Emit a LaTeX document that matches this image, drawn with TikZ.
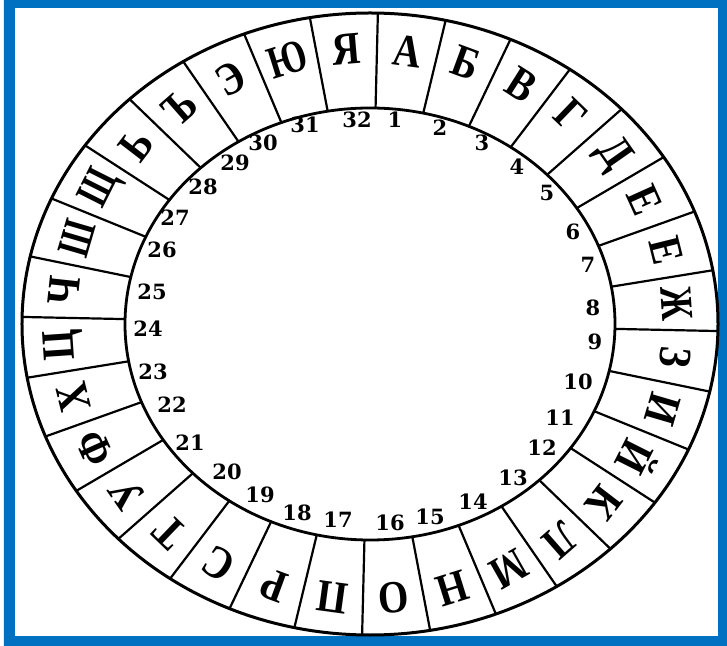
\documentclass[tikz,border=0pt]{standalone}
\usepackage{fontspec}
\setmainfont{Liberation Serif}
\newfontfamily\digitfont{DejaVu Serif}
\usepackage{tikz}
\definecolor{frameblue}{RGB}{0,112,192}

\begin{document}
\begin{tikzpicture}[x=0.5pt,y=0.5pt,line cap=round,
    letter/.style={inner sep=0pt,font=\fontsize{23}{23}\selectfont\bfseries},
    digit/.style={inner sep=0pt,font=\digitfont\fontsize{10.5}{10.5}\selectfont\bfseries}]
  \useasboundingbox (-370,-322) rectangle (357,324);
  % blue frame round the page
  \fill[frameblue,even odd rule] (-366,-322) rectangle (357,324) (-355,-312) rectangle (348,316);
  % the two rims of the wheel
  \draw[line width=1.5pt] (0,0) ellipse [x radius=348,y radius=311];
  \draw[line width=1.4pt] (0,0) ellipse [x radius=245,y radius=216];
  % 32 spokes, the wheel turned a little clockwise
  \foreach \k in {0,...,31}{
    \pgfmathsetmacro{\ang}{90-11.25*\k-1.3}
    \draw[line width=1.1pt] ({245*cos(\ang)},{216*sin(\ang)}) -- ({348*cos(\ang)},{311*sin(\ang)});
  }
  % letters, the top of each one pointing outwards; \w narrows the wide ones
  \foreach \k/\ch/\w in {1/А/.85,2/Б/.85,3/В/.85,4/Г/.85,5/Д/.85,6/Е/.85,7/Е/.85,8/Ж/.75,9/З/.85,
      10/И/.85,11/Й/.85,12/К/.85,13/Л/.85,14/М/.8,15/Н/.85,16/О/.85,17/П/.85,18/Р/.85,19/С/.85,
      20/Т/.85,21/У/.85,22/Ф/.85,23/Х/.85,24/Ц/.85,25/Ч/.85,26/Ш/.7,27/Щ/.7,28/Ь/.85,29/Ъ/.85,
      30/Э/.85,31/Ю/.75,32/Я/.85}{
    \pgfmathsetmacro{\ang}{90-11.25*(\k-0.5)-1.3}
    \pgfmathsetmacro{\rot}{atan2(275*sin(\ang),308*cos(\ang))-90}
    \node[letter,rotate=\rot,xscale=\w] (l\k) at ({308*cos(\ang)},{275*sin(\ang)}) {\ch};
  }
  % numbers inside the inner rim
  \foreach \n/\x/\y in {1/25/204,2/70/196,3/112/181,4/147/157,5/177/131,6/203/92,7/218/59,8/223/16,
      9/225/-18,10/208/-58,11/190/-94,12/172/-124,13/143/-154,14/103/-178,15/60/-193,16/20/-199,
      17/-32/-196,18/-73/-189,19/-110/-171,20/-143/-148,21/-180/-119,22/-198/-81,23/-217/-48,24/-222/-5,
      25/-218/32,26/-208/74,27/-195/106,28/-167/137,29/-135/161,30/-107/181,31/-65/199,32/-13/204}{
    \node[digit] (n\n) at (\x,\y) {\n};
  }
\end{tikzpicture}
\end{document}
